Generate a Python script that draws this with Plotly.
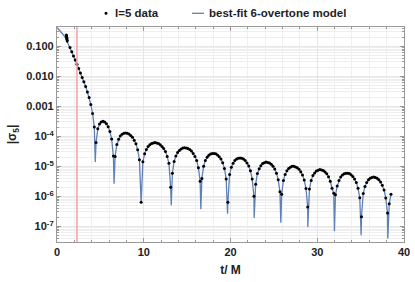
import plotly.graph_objects as go

# ---- data (log10 of |sigma_5|) ----
cluster_t = [1.08, 1.10, 1.12, 1.14, 1.16, 1.18]
cluster_logv = [-0.62, -0.66, -0.70, -0.74, -0.78, -0.82]

data_t = [1.5, 1.7, 1.9, 2.1, 2.3, 2.5, 2.7, 2.9, 3.1, 3.3, 3.5, 3.7, 3.9, 4.1, 4.3,
          4.5, 4.7, 4.9, 5.1, 5.3, 5.5, 5.7, 5.9, 6.1, 6.3, 6.5,
          6.7, 6.9, 7.1, 7.3, 7.5, 7.7, 7.9, 8.1, 8.3, 8.5, 8.7, 8.9, 9.1, 9.3, 9.5,
          9.7, 9.9, 10.1, 10.3, 10.5, 10.7, 10.9, 11.1, 11.3, 11.5, 11.7, 11.9, 12.1, 12.3, 12.5, 12.7, 12.9, 13.1,
          13.3, 13.5, 13.7, 13.9, 14.1, 14.3, 14.5, 14.7, 14.9, 15.1, 15.3, 15.5, 15.7, 15.9, 16.1, 16.3, 16.5,
          16.7, 16.9, 17.1, 17.3, 17.5, 17.7, 17.9, 18.1, 18.3, 18.5, 18.7, 18.9, 19.1, 19.3, 19.5,
          19.7, 19.9, 20.1, 20.3, 20.5, 20.7, 20.9, 21.1, 21.3, 21.5, 21.7, 21.9, 22.1, 22.3, 22.5, 22.7,
          22.9, 23.1, 23.3, 23.5, 23.7, 23.9, 24.1, 24.3, 24.5, 24.7, 24.9, 25.1, 25.3, 25.5, 25.7,
          25.9, 26.1, 26.3, 26.5, 26.7, 26.9, 27.1, 27.3, 27.5, 27.7, 27.9, 28.1, 28.3, 28.5, 28.7, 28.9,
          29.1, 29.3, 29.5, 29.7, 29.9, 30.1, 30.3, 30.5, 30.7, 30.9, 31.1, 31.3, 31.5, 31.7, 31.9,
          32.1, 32.3, 32.5, 32.7, 32.9, 33.1, 33.3, 33.5, 33.7, 33.9, 34.1, 34.3, 34.5, 34.7, 34.9,
          35.1, 35.3, 35.5, 35.7, 35.9, 36.1, 36.3, 36.5, 36.7, 36.9, 37.1, 37.3, 37.5, 37.7, 37.9, 38.1,
          38.3, 38.5]
data_logv = [-1.04, -1.18, -1.32, -1.46, -1.60, -1.74, -1.89, -2.04, -2.18, -2.34, -2.52, -2.71, -2.94, -3.24, -3.69,
             -4.21, -3.75, -3.59, -3.52, -3.50, -3.52, -3.58, -3.68, -3.84, -4.09, -4.66,
             -4.67, -4.27, -4.10, -3.99, -3.93, -3.90, -3.89, -3.90, -3.92, -3.97, -4.03, -4.13, -4.25, -4.45, -4.78,
             -6.20, -4.85, -4.58, -4.44, -4.34, -4.28, -4.24, -4.22, -4.21, -4.22, -4.24, -4.28, -4.34, -4.41, -4.51, -4.67, -4.90, -5.70,
             -5.23, -4.84, -4.66, -4.54, -4.47, -4.42, -4.39, -4.38, -4.39, -4.41, -4.44, -4.49, -4.57, -4.67, -4.81, -5.05, -5.50,
             -5.41, -5.00, -4.81, -4.70, -4.63, -4.59, -4.57, -4.57, -4.58, -4.62, -4.68, -4.76, -4.88, -5.07, -5.42,
             -6.20, -5.27, -5.03, -4.90, -4.81, -4.76, -4.73, -4.72, -4.73, -4.76, -4.81, -4.89, -4.99, -5.15, -5.42, -6.00,
             -5.60, -5.24, -5.08, -4.98, -4.91, -4.88, -4.86, -4.87, -4.89, -4.93, -5.00, -5.09, -5.23, -5.45, -5.85,
             -5.93, -5.47, -5.27, -5.15, -5.07, -5.03, -5.00, -5.00, -5.02, -5.05, -5.10, -5.18, -5.29, -5.46, -5.74, -6.36,
             -5.76, -5.47, -5.31, -5.22, -5.16, -5.13, -5.11, -5.12, -5.14, -5.19, -5.25, -5.35, -5.50, -5.73, -5.90,
             -5.95, -5.66, -5.47, -5.36, -5.29, -5.25, -5.23, -5.23, -5.24, -5.28, -5.34, -5.42, -5.54, -5.73, -6.05,
             -6.68, -5.91, -5.67, -5.54, -5.45, -5.40, -5.37, -5.36, -5.37, -5.40, -5.45, -5.52, -5.63, -5.79, -6.06, -6.56,
             -6.25, -5.93]

# model: early part before data, plus zero-crossing dips
model_early_t = [0.0, 0.2, 0.4, 0.6, 0.8, 1.0, 1.2, 1.3]
model_early_logv = [-0.37, -0.43, -0.50, -0.57, -0.64, -0.73, -0.85, -0.92]
dip_t = [4.41, 6.58, 9.68, 13.17, 16.58, 19.66, 22.73, 25.80, 28.91, 31.98, 35.06, 38.13]
dip_logv = [-4.86, -5.58, -6.08, -6.30, -6.43, -6.58, -6.72, -6.88, -7.02, -7.16, -7.30, -7.41]

t_marker = 2.3  # red vertical reference line

y_tickvals = [1e-1, 1e-2, 1e-3, 1e-4, 1e-5, 1e-6, 1e-7]
y_ticktext = ["<b>0.100</b>", "<b>0.010</b>", "<b>0.001</b>", "<b>10<sup>-4</sup></b>",
              "<b>10<sup>-5</sup></b>", "<b>10<sup>-6</sup></b>", "<b>10<sup>-7</sup></b>"]
x_tickvals = [0, 10, 20, 30, 40]
x_ticktext = ["<b>0</b>", "<b>10</b>", "<b>20</b>", "<b>30</b>", "<b>40</b>"]

data_name = "l=5 data"
model_name = "best-fit 6-overtone model"

# ---- build ----
all_data_t = cluster_t + data_t
all_data_v = [10 ** v for v in cluster_logv + data_logv]

pairs = sorted(list(zip(model_early_t, model_early_logv)) + list(zip(data_t, data_logv)) + list(zip(dip_t, dip_logv)))
model_t = [p[0] for p in pairs]
model_v = [10 ** p[1] for p in pairs]

FONT = "Liberation Sans"
TXT = "#222222"
LINE_C = "#5E81B5"
W, H = 415, 282
ML, MR, MT, MB = 57, 11, 27, 40
PW, PH = W - ML - MR, H - MT - MB


def px(xp):
    return (xp - ML) / PW


def py(yp):
    return (H - MB - yp) / PH


fig = go.Figure()
fig.add_trace(go.Scatter(x=model_t, y=model_v, mode="lines", name=model_name,
                         line=dict(color=LINE_C, width=1.3), showlegend=False))
fig.add_trace(go.Scatter(x=all_data_t, y=all_data_v, mode="markers", name=data_name,
                         marker=dict(color="black", size=3), showlegend=False))

fig.add_shape(type="line", x0=t_marker, x1=t_marker, y0=0, y1=1, xref="x", yref="paper",
              line=dict(color="#F4A0A0", width=1.5), layer="above")

# legend (drawn above the frame)
leg_y = py(13.3)
fig.add_shape(type="circle", xref="paper", yref="paper", xsizemode="pixel", ysizemode="pixel",
              xanchor=px(106), yanchor=leg_y, x0=-1.5, x1=1.5, y0=-1.5, y1=1.5,
              fillcolor="black", line=dict(width=0))
fig.add_shape(type="line", xref="paper", yref="paper", x0=px(192), x1=px(204), y0=leg_y, y1=leg_y,
              line=dict(color=LINE_C, width=1.3))
fig.add_annotation(text="<b>" + data_name + "</b>", xref="paper", yref="paper", x=px(113), y=leg_y,
                   xanchor="left", yanchor="middle", showarrow=False,
                   font=dict(family=FONT, size=11.5, color=TXT))
fig.add_annotation(text="<b>" + model_name + "</b>", xref="paper", yref="paper", x=px(207), y=leg_y,
                   xanchor="left", yanchor="middle", showarrow=False,
                   font=dict(family=FONT, size=11.5, color=TXT))

grid_c = "#E6E6E6"
axis_c = "#999999"
fig.update_layout(
    width=W, height=H,
    margin=dict(l=ML, r=MR, t=MT, b=MB, autoexpand=False),
    plot_bgcolor="white", paper_bgcolor="white",
    font=dict(family=FONT, size=11, color=TXT),
    showlegend=False,
    xaxis=dict(range=[0, 40], tickvals=x_tickvals, ticktext=x_ticktext, ticks="inside", ticklen=4, tickcolor=axis_c,
               showline=True, linecolor=axis_c, linewidth=1.2, mirror="ticks", automargin=False,
               showgrid=True, gridcolor=grid_c, gridwidth=1, zeroline=False, ticklabeloverflow="allow",
               minor=dict(dtick=2, ticks="inside", ticklen=2, tickcolor=axis_c, showgrid=True, gridcolor="#EFEFEF"),
               tickfont=dict(family=FONT, size=11, color=TXT),
               title=dict(text="<b>t/ M</b>", font=dict(family=FONT, size=12, color=TXT), standoff=8)),
    yaxis=dict(type="log", range=[-7.523, -0.357], tickvals=y_tickvals, ticktext=y_ticktext,
               ticks="inside", ticklen=4, tickcolor=axis_c, automargin=False,
               showline=True, linecolor=axis_c, linewidth=1.2, mirror="ticks",
               showgrid=True, gridcolor=grid_c, gridwidth=1, zeroline=False,
               minor=dict(dtick="D1", ticks="inside", ticklen=2, tickcolor=axis_c, showgrid=True, gridcolor="#EFEFEF"),
               tickfont=dict(family=FONT, size=11, color=TXT),
               title=dict(text="<b>|σ<sub>5</sub>|</b>", font=dict(family=FONT, size=12, color=TXT), standoff=6)),
)

fig.write_html("out.html", config={"displayModeBar": False},
               post_script="document.body.style.margin='0px';")
